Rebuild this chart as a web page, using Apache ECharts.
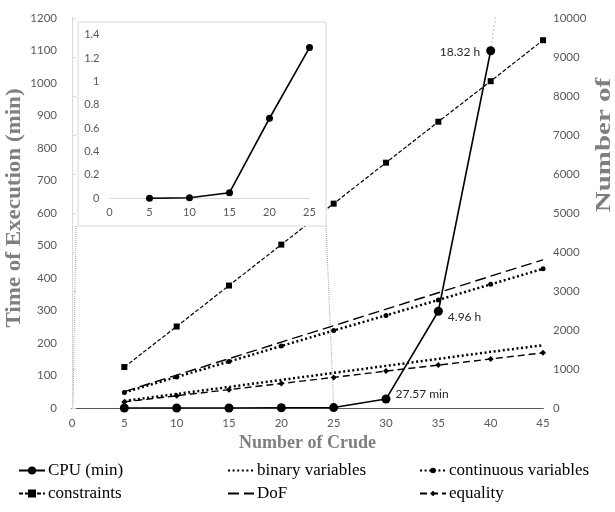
<!DOCTYPE html>
<html>
  <head>
    <meta charset="utf-8" />
    <title>CPU time and problem size</title>
    <script src="https://cdn.jsdelivr.net/npm/echarts@6/dist/echarts.min.js"></script>
    <style>
      * {
        margin: 0;
        padding: 0;
      }
      html,
      body,
      #container {
        width: 615px;
        height: 512px;
        background: #fff;
      }
    </style>
  </head>
  <body>
    <div id="container"></div>
    <script>
      // number of crudes
      const crude = [5, 10, 15, 20, 25, 30, 35, 40, 45];
      // CPU time in minutes (5..40 crudes)
      const cpuMin = [0, 0.005, 0.048, 0.685, 1.29, 27.57, 297.6, 1099.2];
      const cpuLabels = ["", "", "", "", "", "27.57 min", "4.96 h", "18.32 h"];
      // thin blue extension above the last point
      const cpuExt = [[40, 1099.2], [45, 2216]];
      // model size (right axis)
      const binaryVars = [180, 360, 540, 720, 900, 1080, 1260, 1440, 1610];
      const continuousVars = [400, 795, 1190, 1590, 1985, 2375, 2770, 3170, 3570];
      const constraints = [1050, 2090, 3140, 4190, 5240, 6290, 7340, 8380, 9430];
      const dof = [420, 845, 1265, 1690, 2110, 2535, 2955, 3380, 3800];
      const equality = [157, 314, 470, 628, 785, 946, 1100, 1257, 1414];

      const pairs = (arr) => arr.map((v, i) => [crude[i], v]);
      const plain = (v) => String(+v.toFixed(1));
      const labelFont = {
        fontFamily: "Lato",
        fontSize: 11.5,
        color: "#595959",
        formatter: plain,
      };
      const serif = "Liberation Serif";
      const noMark = { color: "rgba(0,0,0,0)", borderColor: "rgba(0,0,0,0)" };

      var myChart = echarts.init(document.getElementById("container"));

      const cpuData = cpuMin.map((v, i) => {
        const p = { value: [crude[i], v] };
        if (cpuLabels[i]) {
          const left = i === 7;
          p.label = {
            show: true,
            formatter: cpuLabels[i],
            position: left ? "left" : "right",
            distance: left ? 6 : 5,
            offset: i === 5 ? [0, -5] : i === 6 ? [0, 6] : [0, 1],
          };
        }
        return p;
      });

      myChart.setOption({
        animation: false,
        grid: [
          { left: 72, right: 72, top: 18, bottom: 104 },
          { left: 109.5, width: 200, top: 34.7, height: 163.6, zlevel: 1 },
        ],
        xAxis: [
          {
            type: "value",
            gridIndex: 0,
            min: 0,
            max: 45,
            interval: 5,
            splitLine: { show: false },
            axisTick: { show: false },
            axisLine: { lineStyle: { color: "#404040", width: 1.2 } },
            axisLabel: { ...labelFont, margin: 9 },
            name: "Number of Crude",
            nameLocation: "middle",
            nameGap: 20,
            nameTextStyle: {
              fontFamily: serif,
              fontWeight: "bold",
              fontSize: 18,
              color: "#7f7f7f",
            },
          },
          {
            type: "value",
            gridIndex: 0,
            position: "top",
            min: 0,
            max: 45,
            splitLine: { show: false },
            axisTick: { show: false },
            axisLabel: { show: false },
            axisLine: { lineStyle: { color: "#595959", width: 1 } },
          },
          {
            type: "value",
            gridIndex: 1,
            zlevel: 1,
            z: 5,
            min: 0,
            max: 25,
            interval: 5,
            splitLine: { show: false },
            axisTick: { show: false },
            axisLine: { lineStyle: { color: "#d9d9d9" } },
            axisLabel: { ...labelFont, fontSize: 11, margin: 9 },
          },
        ],
        yAxis: [
          {
            type: "value",
            gridIndex: 0,
            min: 0,
            max: 1200,
            interval: 100,
            splitLine: { show: false },
            axisTick: { show: false },
            axisLine: { show: true, lineStyle: { color: "#d9d9d9" } },
            axisLabel: { ...labelFont, margin: 15 },
          },
          {
            type: "value",
            gridIndex: 0,
            position: "right",
            min: 0,
            max: 10000,
            interval: 1000,
            splitLine: { show: false },
            axisTick: { show: true, length: 4, lineStyle: { color: "#d9d9d9" } },
            axisLine: { show: true, lineStyle: { color: "#d9d9d9" } },
            axisLabel: { ...labelFont, margin: 10 },
          },
          {
            type: "value",
            gridIndex: 1,
            zlevel: 1,
            z: 5,
            min: 0,
            max: 1.4,
            interval: 0.2,
            splitLine: { show: false },
            axisTick: { show: false },
            axisLine: { show: false },
            axisLabel: { ...labelFont, fontSize: 11, margin: 10 },
          },
        ],
        legend: [
          { left: 18, itemHeight: 10, data: ["CPU (min)", "constraints"] },
          {
            left: 227,
            itemHeight: 8,
            data: [
              { name: "binary variables", itemStyle: noMark },
              { name: "DoF", itemStyle: noMark },
            ],
          },
          { left: 419, itemHeight: 7, data: ["continuous variables", "equality"] },
        ].map((l) => ({
          ...l,
          top: 462,
          orient: "vertical",
          padding: 0,
          itemWidth: 26,
          itemGap: 6,
          textStyle: {
            fontFamily: serif,
            fontSize: 17,
            lineHeight: 17,
            color: "#000",
            padding: [0, 0, 0, -2],
          },
        })),
        series: [
          {
            name: "CPU (min)",
            type: "line",
            xAxisIndex: 0,
            yAxisIndex: 0,
            data: cpuData,
            symbol: "circle",
            symbolSize: 9,
            z: 4,
            itemStyle: { color: "#000" },
            lineStyle: { color: "#000", width: 1.6 },
            label: { fontFamily: "Lato", fontSize: 12, color: "#262626" },
          },
          {
            name: "cpu-ext",
            type: "line",
            xAxisIndex: 0,
            yAxisIndex: 0,
            data: cpuExt,
            symbol: "none",
            z: 1,
            lineStyle: { color: "#9dc3e6", width: 1, type: [2, 2] },
          },
          {
            name: "binary variables",
            type: "line",
            xAxisIndex: 0,
            yAxisIndex: 1,
            data: pairs(binaryVars),
            symbol: "none",
            itemStyle: { color: "#000" },
            lineStyle: { color: "#000", width: 2.5, type: [2, 2.6] },
          },
          {
            name: "continuous variables",
            type: "line",
            xAxisIndex: 0,
            yAxisIndex: 1,
            data: pairs(continuousVars),
            symbol: "circle",
            symbolSize: 5,
            itemStyle: { color: "#000" },
            lineStyle: { color: "#000", width: 2.5, type: [2, 2.6] },
          },
          {
            name: "constraints",
            type: "line",
            xAxisIndex: 0,
            yAxisIndex: 1,
            data: pairs(constraints),
            symbol: "rect",
            symbolSize: 6,
            itemStyle: { color: "#000" },
            lineStyle: { color: "#000", width: 1.2, type: [4, 2] },
          },
          {
            name: "DoF",
            type: "line",
            xAxisIndex: 0,
            yAxisIndex: 1,
            data: pairs(dof),
            symbol: "none",
            itemStyle: { color: "#000" },
            lineStyle: { color: "#000", width: 1.4, type: [11, 5] },
          },
          {
            name: "equality",
            type: "line",
            xAxisIndex: 0,
            yAxisIndex: 1,
            data: pairs(equality),
            symbol: "diamond",
            symbolSize: 6,
            itemStyle: { color: "#000" },
            lineStyle: { color: "#000", width: 1.4, type: [7, 4] },
          },
          {
            name: "CPU inset",
            type: "line",
            xAxisIndex: 2,
            yAxisIndex: 2,
            zlevel: 1,
            z: 6,
            data: pairs(cpuMin.slice(0, 5)),
            symbol: "circle",
            symbolSize: 7,
            itemStyle: { color: "#000" },
            lineStyle: { color: "#000", width: 1.6 },
          },
        ],
      });

      // inset frame and the dotted connectors down to the main x axis
      const p0 = myChart.convertToPixel({ gridIndex: 0 }, [0, 0]);
      const p25 = myChart.convertToPixel({ gridIndex: 0 }, [25, 0]);
      const box = { x: 78, y: 22, w: 248, h: 204 };
      const dotted = { stroke: "#a6a6a6", lineWidth: 1, lineDash: [1, 1] };
      myChart.setOption({
        graphic: [
          {
            type: "rect",
            zlevel: 1,
            z: 1,
            shape: { x: box.x, y: box.y, width: box.w, height: box.h },
            style: { fill: "#fff", stroke: "#d9d9d9", lineWidth: 1 },
          },
          {
            type: "line",
            shape: { x1: box.x - 2, y1: box.y + box.h, x2: p0[0] + 1, y2: p0[1] - 2 },
            style: dotted,
          },
          {
            type: "line",
            shape: { x1: box.x + box.w, y1: box.y + box.h, x2: p25[0], y2: p25[1] - 2 },
            style: dotted,
          },
          {
            type: "text",
            x: 15,
            y: 208,
            rotation: Math.PI / 2,
            scaleX: 1.15,
            style: {
              text: "Time of Execution (min)",
              fontFamily: serif,
              fontWeight: "bold",
              fontSize: 20,
              fill: "#7f7f7f",
              align: "center",
              verticalAlign: "middle",
            },
          },
          {
            type: "text",
            x: 605,
            y: 145,
            rotation: Math.PI / 2,
            scaleX: 1.45,
            style: {
              text: "Number of",
              fontFamily: serif,
              fontWeight: "bold",
              fontSize: 20,
              fill: "#7f7f7f",
              align: "center",
              verticalAlign: "middle",
            },
          },
        ],
      });
    </script>
  </body>
</html>
